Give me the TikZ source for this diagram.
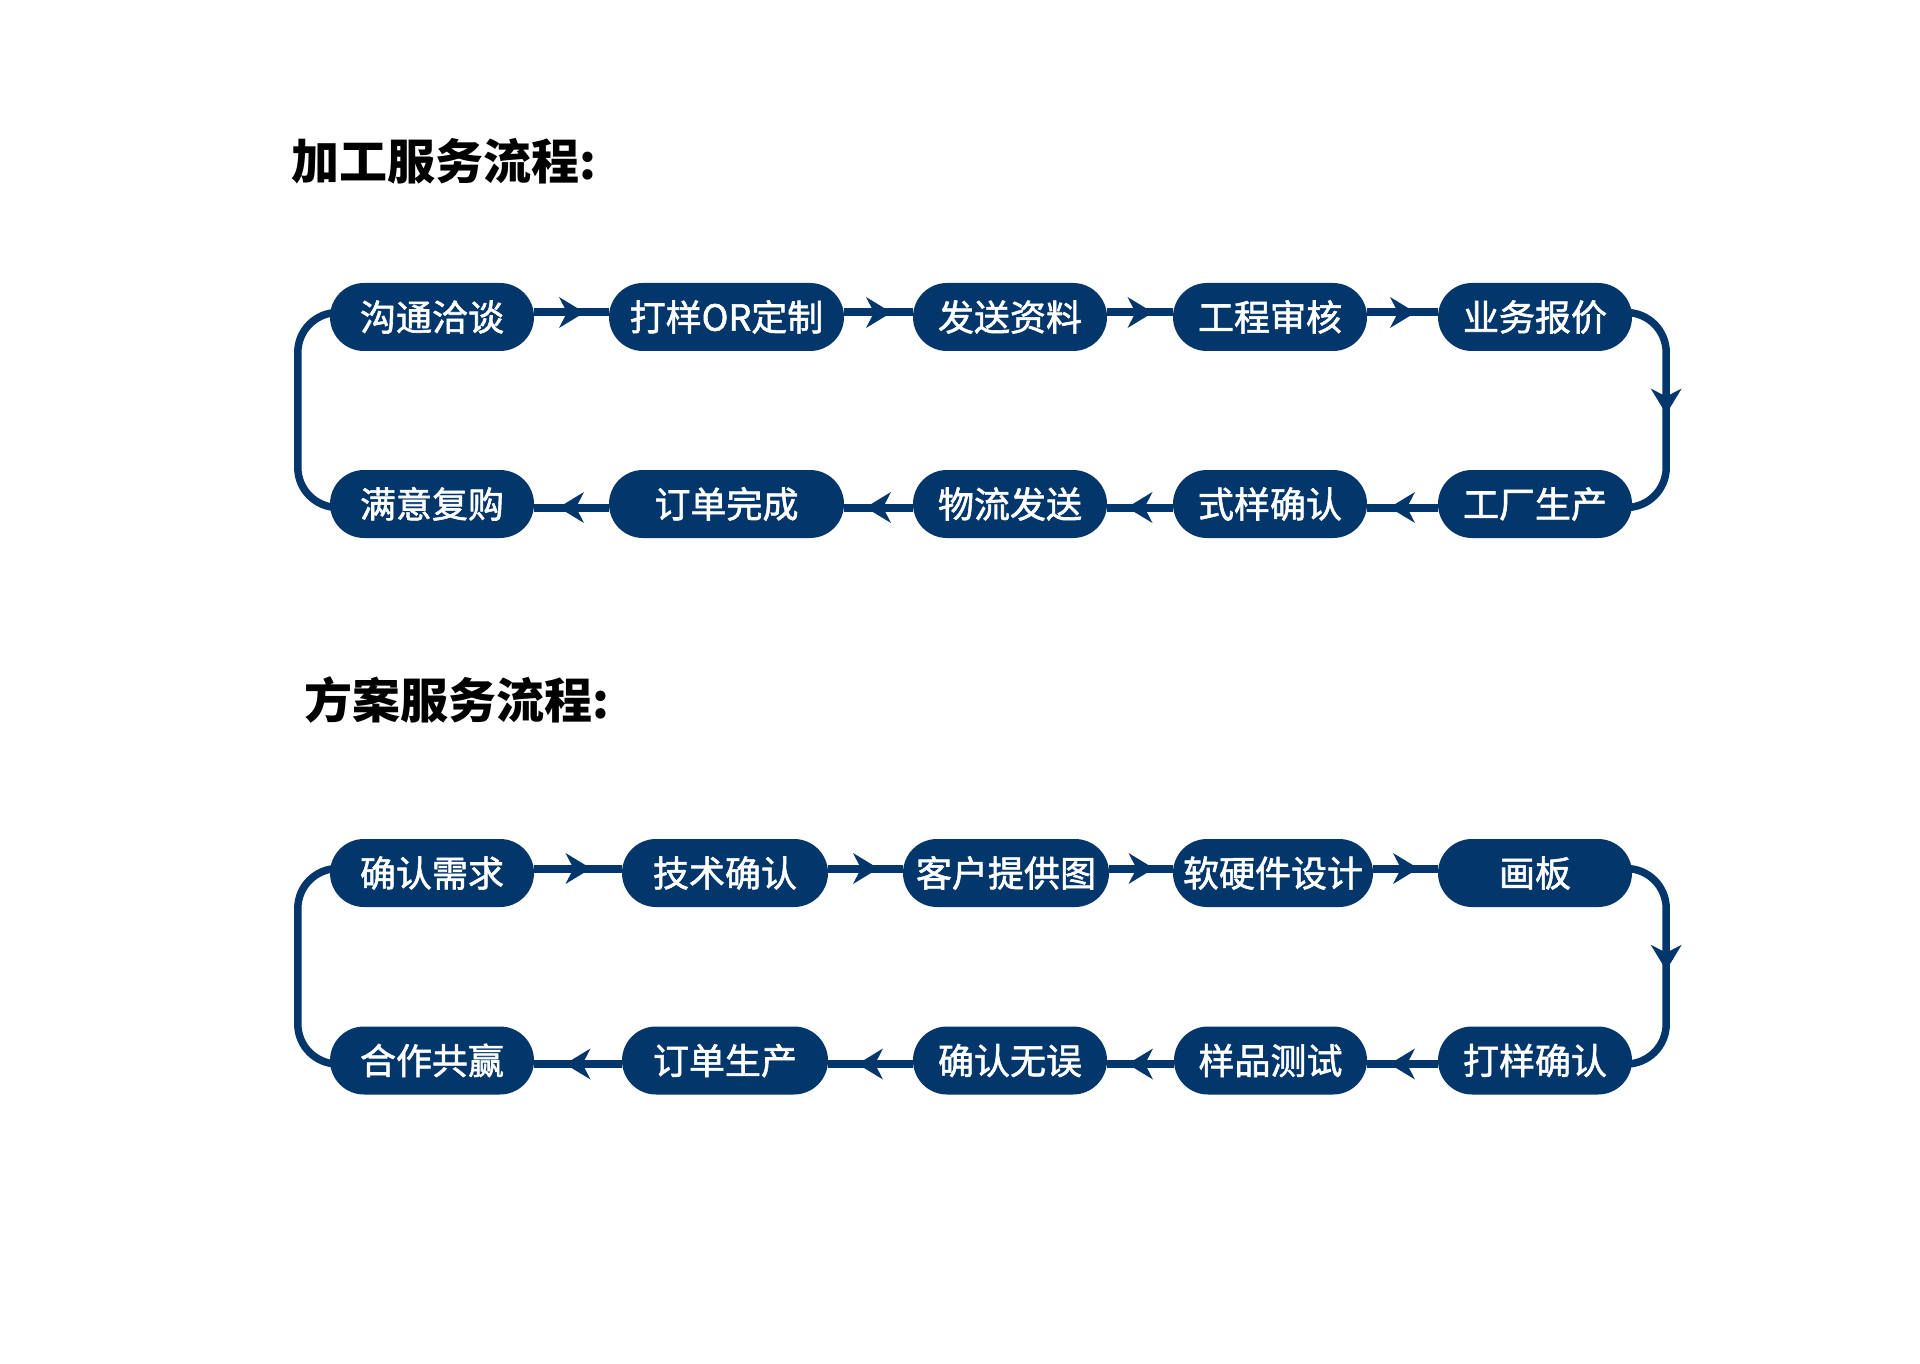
\documentclass[tikz,border=0pt]{standalone}
\usepackage{fontspec}
\setmainfont{Noto Sans CJK SC}
\newfontfamily\boxfont{Noto Sans CJK SC}[FakeBold=1.6]
\usetikzlibrary{decorations.markings,calc}
\definecolor{navy}{HTML}{03366A}
\tikzset{
  box/.style={fill=navy, text=white, rounded corners=34pt, minimum height=68pt,
    inner sep=0pt, font=\boxfont\fontsize{36pt}{40pt}\selectfont,
    text height=27.4pt, text depth=0pt},
  titletext/.style={anchor=base west, inner sep=0pt, text=black,
    font=\fontsize{48pt}{52pt}\selectfont\bfseries},
  midarrow/.style={decoration={markings, mark=at position 0.5 with
    {\fill[navy, sharp corners] (#1,0) -- ++(-25.5,15.5) -- ++(8,-15.5) -- ++(-8,-15.5) -- cycle;}},
    postaction={decorate}},
  conn/.style={draw=navy, line width=8pt, midarrow=13},
  loopr/.style={draw=navy, line width=7.5pt, rounded corners=40pt, midarrow=4},
  loopl/.style={draw=navy, line width=7.5pt, rounded corners=40pt}
}
\begin{document}
\begin{tikzpicture}[x=1pt,y=-1pt]
\useasboundingbox[fill=white] (0,0) rectangle (1920,1364);

% ---------- section 1 ----------
\node[titletext] (t1) at (291,180) {加工服务流程:};

\node[box, minimum width=204pt] (a1) at (432,317) {沟通洽谈};
\node[box, minimum width=235pt] (a2) at (726.5,317) {打样OR定制};
\node[box, minimum width=194pt] (a3) at (1010,317) {发送资料};
\node[box, minimum width=194pt] (a4) at (1270,317) {工程审核};
\node[box, minimum width=194pt] (a5) at (1535,317) {业务报价};

\node[box, minimum width=194pt] (b5) at (1535,504) {工厂生产};
\node[box, minimum width=194pt] (b4) at (1270,504) {式样确认};
\node[box, minimum width=194pt] (b3) at (1010,504) {物流发送};
\node[box, minimum width=235pt] (b2) at (726.5,504) {订单完成};
\node[box, minimum width=204pt] (b1) at (432,504) {满意复购};

\draw[conn] ($(a1.east)+(0,-4.5)$) -- ($(a2.west)+(0,-4.5)$);
\draw[conn] ($(a2.east)+(0,-4.5)$) -- ($(a3.west)+(0,-4.5)$);
\draw[conn] ($(a3.east)+(0,-4.5)$) -- ($(a4.west)+(0,-4.5)$);
\draw[conn] ($(a4.east)+(0,-4.5)$) -- ($(a5.west)+(0,-4.5)$);
\draw[loopr] ($(a5.east)+(-10,-4.5)$) -- ++(44,0) |- ($(b5.east)+(-10,3.5)$);
\draw[conn] ($(b5.west)+(0,3.5)$) -- ($(b4.east)+(0,3.5)$);
\draw[conn] ($(b4.west)+(0,3.5)$) -- ($(b3.east)+(0,3.5)$);
\draw[conn] ($(b3.west)+(0,3.5)$) -- ($(b2.east)+(0,3.5)$);
\draw[conn] ($(b2.west)+(0,3.5)$) -- ($(b1.east)+(0,3.5)$);
\draw[loopl] ($(b1.west)+(10,3.5)$) -- ++(-42,0) |- ($(a1.west)+(10,-4.5)$);

% ---------- section 2 ----------
\node[titletext] (t2) at (304,718) {方案服务流程:};

\node[box, minimum width=204pt] (c1) at (432,873) {确认需求};
\node[box, minimum width=206pt] (c2) at (725,873) {技术确认};
\node[box, minimum width=206pt] (c3) at (1006,873) {客户提供图};
\node[box, minimum width=200pt] (c4) at (1273,873) {软硬件设计};
\node[box, minimum width=194pt] (c5) at (1535,873) {画板};

\node[box, minimum width=194pt] (d5) at (1535,1060.5) {打样确认};
\node[box, minimum width=193pt] (d4) at (1270.5,1060.5) {样品测试};
\node[box, minimum width=194pt] (d3) at (1010,1060.5) {确认无误};
\node[box, minimum width=206pt] (d2) at (725,1060.5) {订单生产};
\node[box, minimum width=204pt] (d1) at (432,1060.5) {合作共赢};

\draw[conn] ($(c1.east)+(0,-4.5)$) -- ($(c2.west)+(0,-4.5)$);
\draw[conn] ($(c2.east)+(0,-4.5)$) -- ($(c3.west)+(0,-4.5)$);
\draw[conn] ($(c3.east)+(0,-4.5)$) -- ($(c4.west)+(0,-4.5)$);
\draw[conn] ($(c4.east)+(0,-4.5)$) -- ($(c5.west)+(0,-4.5)$);
\draw[loopr] ($(c5.east)+(-10,-4.5)$) -- ++(44,0) |- ($(d5.east)+(-10,3.5)$);
\draw[conn] ($(d5.west)+(0,3.5)$) -- ($(d4.east)+(0,3.5)$);
\draw[conn] ($(d4.west)+(0,3.5)$) -- ($(d3.east)+(0,3.5)$);
\draw[conn] ($(d3.west)+(0,3.5)$) -- ($(d2.east)+(0,3.5)$);
\draw[conn] ($(d2.west)+(0,3.5)$) -- ($(d1.east)+(0,3.5)$);
\draw[loopl] ($(d1.west)+(10,3.5)$) -- ++(-42,0) |- ($(c1.west)+(10,-4.5)$);
\end{tikzpicture}
\end{document}
